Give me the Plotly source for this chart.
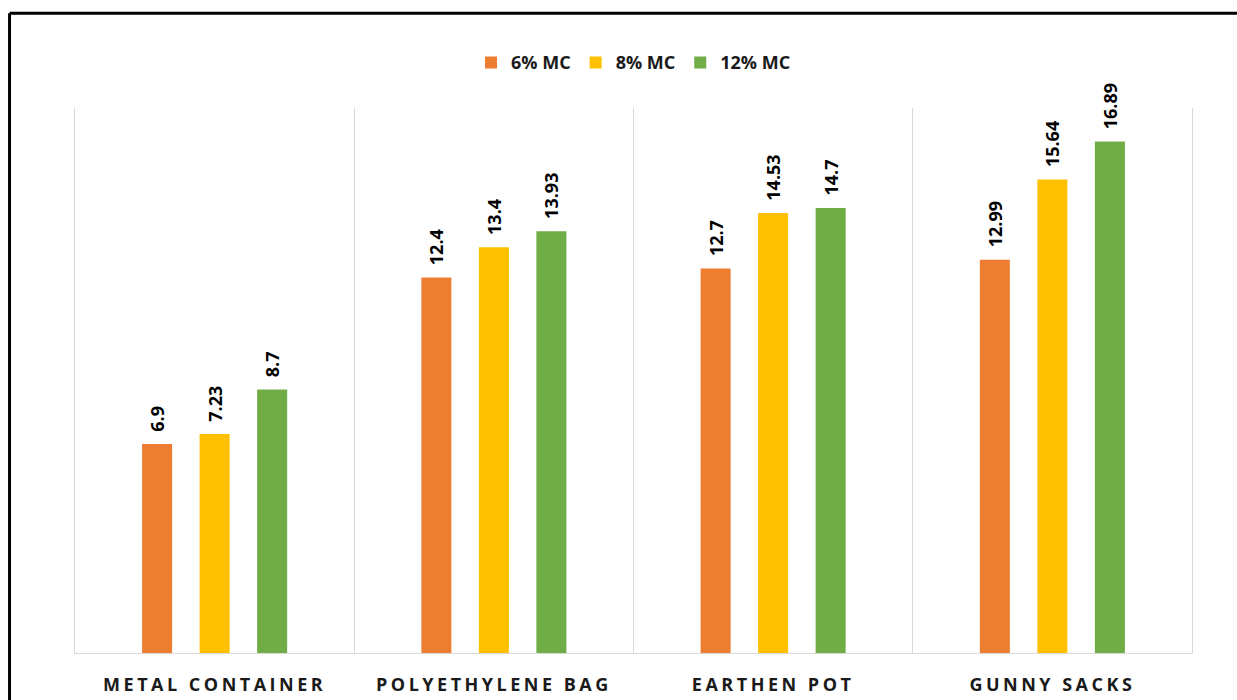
import plotly.graph_objects as go

# Storage containers and the three moisture-content levels
categories = ["METAL CONTAINER", "POLYETHYLENE BAG", "EARTHEN POT", "GUNNY SACKS"]
series_names = ["6% MC", "8% MC", "12% MC"]
mc6 = [6.9, 12.4, 12.7, 12.99]
mc8 = [7.23, 13.4, 14.53, 15.64]
mc12 = [8.7, 13.93, 14.7, 16.89]
colors = ["#ED7D31", "#FFC000", "#70AD47"]

FONT = "Open Sans"
INK = "#1a1a1a"

fig = go.Figure()
for name, vals, col in zip(series_names, [mc6, mc8, mc12], colors):
    fig.add_trace(go.Bar(
        x=categories,
        y=vals,
        name=name,
        marker=dict(color=col, line=dict(width=0)),
        texttemplate="\u00a0\u00a0%{y}",
        textposition="outside",
        textangle=-90,
        constraintext="none",
        cliponaxis=False,
        textfont=dict(family=FONT, size=18, color="#000000", weight="bold"),
        hoverinfo="skip",
    ))

# Letter-spaced category labels
tick_text = [f'<span style="letter-spacing:3.5px">{c}</span>' for c in categories]

fig.update_layout(
    width=1237,
    height=700,
    margin=dict(l=75, r=45, t=108, b=47),
    paper_bgcolor="white",
    plot_bgcolor="white",
    barmode="group",
    bargap=0.382,
    bargroupgap=0.478,
    showlegend=True,
    legend=dict(
        orientation="h",
        x=0.5, xanchor="center",
        y=1.083, yanchor="middle",
        font=dict(family=FONT, size=18, color="#1a1a1a", weight="bold"),
        itemclick=False,
        itemwidth=30,
        traceorder="normal",
    ),
    xaxis=dict(
        type="category",
        tickson="boundaries",
        showgrid=True,
        gridcolor="#d9d9d9",
        gridwidth=1,
        showline=True,
        linecolor="#d9d9d9",
        linewidth=1,
        ticks="",
        tickvals=categories,
        ticktext=tick_text,
        ticklabelstandoff=15,
        automargin=False,
        tickfont=dict(family=FONT, size=18, color=INK, weight="bold"),
        fixedrange=True,
    ),
    yaxis=dict(
        range=[0, 18],
        showgrid=False,
        zeroline=False,
        showticklabels=False,
        ticks="",
        showline=True,
        mirror=True,
        linecolor="#d9d9d9",
        linewidth=1,
        automargin=False,
        fixedrange=True,
    ),
    shapes=[
        # outer frame (left and top edges)
        dict(type="line", xref="paper", yref="paper", x0=-0.0586, x1=-0.0586,
             y0=-0.2, y1=1.1738, line=dict(color="black", width=3)),
        dict(type="line", xref="paper", yref="paper", x0=-0.0586, x1=1.1,
             y0=1.1738, y1=1.1738, line=dict(color="black", width=3)),
    ],
)

fig.write_html("out.html", config={"displayModeBar": False})
